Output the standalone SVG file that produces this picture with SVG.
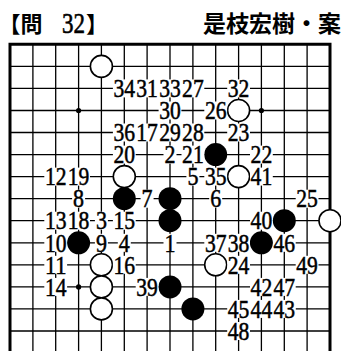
<svg xmlns="http://www.w3.org/2000/svg" width="341" height="351" viewBox="0 0 341 351">
<style>
.g{stroke:#000;stroke-width:1.3;fill:none}
.e{stroke:#000;stroke-width:3;fill:none}
.w{fill:#fff;stroke:#000;stroke-width:1.6}
.b{fill:#000}
.m{fill:#fff}
.n{font-family:"Liberation Serif","Times New Roman",serif;font-size:25px;text-anchor:middle;fill:#000;stroke:#000;stroke-width:0.5}
.t{font-family:"Noto Sans CJK JP","Noto Sans CJK SC",sans-serif;font-weight:bold;font-size:22px;fill:#000}
</style>
<rect width="341" height="351" fill="#fff"/>
<g id="title">
<text class="t" x="-1.4" y="31.5">【問</text>
<text x="62" y="33" font-family="Liberation Serif,serif" font-size="29" textLength="23" lengthAdjust="spacingAndGlyphs" stroke="#000" stroke-width="0.6">32</text>
<text class="t" x="86" y="31.5">】</text>
<text class="t" x="341" y="31.5" text-anchor="end" style="font-size:23px">是枝宏樹・案</text>
</g>
<g id="board">
<path class="g" d="M32.9 44V351M55.7 44V351M78.6 44V351M101.4 44V351M124.3 44V351M147.1 44V351M170 44V351M192.9 44V351M215.7 44V351M238.6 44V351M261.4 44V351M284.3 44V351M307.1 44V351M10 66.4H330M10 88.4H330M10 110.5H330M10 132.5H330M10 154.6H330M10 176.6H330M10 198.7H330M10 220.7H330M10 242.8H330M10 264.8H330M10 286.9H330M10 308.9H330M10 331H330"/>
<path class="e" d="M10 351V44.3H330V351"/>
<circle class="b" cx="78.6" cy="110.5" r="2.6"/>
<circle class="b" cx="261.4" cy="110.5" r="2.6"/>
<circle class="b" cx="78.6" cy="286.9" r="2.6"/>
</g>
<g id="stones">
<circle id="w1" class="w" cx="101.4" cy="66.4" r="11"/>
<circle id="w2" class="w" cx="238.6" cy="110.5" r="11"/>
<circle id="w3" class="w" cx="124.3" cy="176.6" r="11"/>
<circle id="w4" class="w" cx="238.6" cy="176.6" r="11"/>
<circle id="w5" class="w" cx="330" cy="220.7" r="11"/>
<circle id="w6" class="w" cx="101.4" cy="264.8" r="11"/>
<circle id="w7" class="w" cx="215.7" cy="264.8" r="11"/>
<circle id="w8" class="w" cx="101.4" cy="286.9" r="11"/>
<circle id="w9" class="w" cx="101.4" cy="308.9" r="11"/>
<circle id="b1" class="b" cx="215.7" cy="154.6" r="11.5"/>
<circle id="b2" class="b" cx="124.3" cy="198.7" r="11.5"/>
<circle id="b3" class="b" cx="170" cy="198.7" r="11.5"/>
<circle id="b4" class="b" cx="170" cy="220.7" r="11.5"/>
<circle id="b5" class="b" cx="284.3" cy="220.7" r="11.5"/>
<circle id="b6" class="b" cx="78.6" cy="242.8" r="11.5"/>
<circle id="b7" class="b" cx="261.4" cy="242.8" r="11.5"/>
<circle id="b8" class="b" cx="170" cy="286.9" r="11.5"/>
<circle id="b9" class="b" cx="192.9" cy="308.9" r="11.5"/>
</g>
<g id="masks">
<rect class="m" x="112.9" y="79.4" width="91.4" height="18"/>
<rect class="m" x="227.2" y="79.4" width="22.8" height="18"/>
<rect class="m" x="158.6" y="101.5" width="22.8" height="18"/>
<rect class="m" x="204.3" y="101.5" width="22.8" height="18"/>
<rect class="m" x="112.9" y="123.5" width="91.4" height="18"/>
<rect class="m" x="227.2" y="123.5" width="22.8" height="18"/>
<rect class="m" x="112.9" y="145.6" width="22.8" height="18"/>
<rect class="m" x="163.5" y="145.6" width="13" height="18"/>
<rect class="m" x="181.5" y="145.6" width="22.8" height="18"/>
<rect class="m" x="250" y="145.6" width="22.8" height="18"/>
<rect class="m" x="44.3" y="167.6" width="45.7" height="18"/>
<rect class="m" x="186.4" y="167.6" width="13" height="18"/>
<rect class="m" x="204.3" y="167.6" width="22.8" height="18"/>
<rect class="m" x="250" y="167.6" width="22.8" height="18"/>
<rect class="m" x="72.1" y="189.7" width="13" height="18"/>
<rect class="m" x="140.6" y="189.7" width="13" height="18"/>
<rect class="m" x="209.2" y="189.7" width="13" height="18"/>
<rect class="m" x="295.7" y="189.7" width="22.8" height="18"/>
<rect class="m" x="44.3" y="211.7" width="45.7" height="18"/>
<rect class="m" x="94.9" y="211.7" width="13" height="18"/>
<rect class="m" x="112.9" y="211.7" width="22.8" height="18"/>
<rect class="m" x="250" y="211.7" width="22.8" height="18"/>
<rect class="m" x="44.3" y="233.8" width="22.8" height="18"/>
<rect class="m" x="94.9" y="233.8" width="13" height="18"/>
<rect class="m" x="117.8" y="233.8" width="13" height="18"/>
<rect class="m" x="163.5" y="233.8" width="13" height="18"/>
<rect class="m" x="204.3" y="233.8" width="45.7" height="18"/>
<rect class="m" x="272.9" y="233.8" width="22.8" height="18"/>
<rect class="m" x="44.3" y="255.8" width="22.8" height="18"/>
<rect class="m" x="112.9" y="255.8" width="22.8" height="18"/>
<rect class="m" x="227.2" y="255.8" width="22.8" height="18"/>
<rect class="m" x="295.7" y="255.8" width="22.8" height="18"/>
<rect class="m" x="44.3" y="277.9" width="22.8" height="18"/>
<rect class="m" x="135.7" y="277.9" width="22.8" height="18"/>
<rect class="m" x="250" y="277.9" width="45.7" height="18"/>
<rect class="m" x="227.2" y="299.9" width="68.6" height="18"/>
<rect class="m" x="227.2" y="322" width="22.8" height="18"/>
</g>
<g id="labels">
<text class="n" x="124.3" y="97.1" textLength="21.6" lengthAdjust="spacingAndGlyphs">34</text>
<text class="n" x="147.1" y="97.1" textLength="21.6" lengthAdjust="spacingAndGlyphs">31</text>
<text class="n" x="170" y="97.1" textLength="21.6" lengthAdjust="spacingAndGlyphs">33</text>
<text class="n" x="192.9" y="97.1" textLength="21.6" lengthAdjust="spacingAndGlyphs">27</text>
<text class="n" x="238.6" y="97.1" textLength="21.6" lengthAdjust="spacingAndGlyphs">32</text>
<text class="n" x="170" y="119.2" textLength="21.6" lengthAdjust="spacingAndGlyphs">30</text>
<text class="n" x="215.7" y="119.2" textLength="21.6" lengthAdjust="spacingAndGlyphs">26</text>
<text class="n" x="124.3" y="141.2" textLength="21.6" lengthAdjust="spacingAndGlyphs">36</text>
<text class="n" x="147.1" y="141.2" textLength="21.6" lengthAdjust="spacingAndGlyphs">17</text>
<text class="n" x="170" y="141.2" textLength="21.6" lengthAdjust="spacingAndGlyphs">29</text>
<text class="n" x="192.9" y="141.2" textLength="21.6" lengthAdjust="spacingAndGlyphs">28</text>
<text class="n" x="238.6" y="141.2" textLength="21.6" lengthAdjust="spacingAndGlyphs">23</text>
<text class="n" x="124.3" y="163.3" textLength="21.6" lengthAdjust="spacingAndGlyphs">20</text>
<text class="n" x="170" y="163.3" textLength="11" lengthAdjust="spacingAndGlyphs">2</text>
<text class="n" x="192.9" y="163.3" textLength="21.6" lengthAdjust="spacingAndGlyphs">21</text>
<text class="n" x="261.4" y="163.3" textLength="21.6" lengthAdjust="spacingAndGlyphs">22</text>
<text class="n" x="55.7" y="185.3" textLength="21.6" lengthAdjust="spacingAndGlyphs">12</text>
<text class="n" x="78.6" y="185.3" textLength="21.6" lengthAdjust="spacingAndGlyphs">19</text>
<text class="n" x="192.9" y="185.3" textLength="11" lengthAdjust="spacingAndGlyphs">5</text>
<text class="n" x="215.7" y="185.3" textLength="21.6" lengthAdjust="spacingAndGlyphs">35</text>
<text class="n" x="261.4" y="185.3" textLength="21.6" lengthAdjust="spacingAndGlyphs">41</text>
<text class="n" x="78.6" y="207.4" textLength="11" lengthAdjust="spacingAndGlyphs">8</text>
<text class="n" x="147.1" y="207.4" textLength="11" lengthAdjust="spacingAndGlyphs">7</text>
<text class="n" x="215.7" y="207.4" textLength="11" lengthAdjust="spacingAndGlyphs">6</text>
<text class="n" x="307.1" y="207.4" textLength="21.6" lengthAdjust="spacingAndGlyphs">25</text>
<text class="n" x="55.7" y="229.4" textLength="21.6" lengthAdjust="spacingAndGlyphs">13</text>
<text class="n" x="78.6" y="229.4" textLength="21.6" lengthAdjust="spacingAndGlyphs">18</text>
<text class="n" x="101.4" y="229.4" textLength="11" lengthAdjust="spacingAndGlyphs">3</text>
<text class="n" x="124.3" y="229.4" textLength="21.6" lengthAdjust="spacingAndGlyphs">15</text>
<text class="n" x="261.4" y="229.4" textLength="21.6" lengthAdjust="spacingAndGlyphs">40</text>
<text class="n" x="55.7" y="251.5" textLength="21.6" lengthAdjust="spacingAndGlyphs">10</text>
<text class="n" x="101.4" y="251.5" textLength="11" lengthAdjust="spacingAndGlyphs">9</text>
<text class="n" x="124.3" y="251.5" textLength="11" lengthAdjust="spacingAndGlyphs">4</text>
<text class="n" x="170" y="251.5" textLength="11" lengthAdjust="spacingAndGlyphs">1</text>
<text class="n" x="215.7" y="251.5" textLength="21.6" lengthAdjust="spacingAndGlyphs">37</text>
<text class="n" x="238.6" y="251.5" textLength="21.6" lengthAdjust="spacingAndGlyphs">38</text>
<text class="n" x="284.3" y="251.5" textLength="21.6" lengthAdjust="spacingAndGlyphs">46</text>
<text class="n" x="55.7" y="273.5" textLength="21.6" lengthAdjust="spacingAndGlyphs">11</text>
<text class="n" x="124.3" y="273.5" textLength="21.6" lengthAdjust="spacingAndGlyphs">16</text>
<text class="n" x="238.6" y="273.5" textLength="21.6" lengthAdjust="spacingAndGlyphs">24</text>
<text class="n" x="307.1" y="273.5" textLength="21.6" lengthAdjust="spacingAndGlyphs">49</text>
<text class="n" x="55.7" y="295.6" textLength="21.6" lengthAdjust="spacingAndGlyphs">14</text>
<text class="n" x="147.1" y="295.6" textLength="21.6" lengthAdjust="spacingAndGlyphs">39</text>
<text class="n" x="261.4" y="295.6" textLength="21.6" lengthAdjust="spacingAndGlyphs">42</text>
<text class="n" x="284.3" y="295.6" textLength="21.6" lengthAdjust="spacingAndGlyphs">47</text>
<text class="n" x="238.6" y="317.6" textLength="21.6" lengthAdjust="spacingAndGlyphs">45</text>
<text class="n" x="261.4" y="317.6" textLength="21.6" lengthAdjust="spacingAndGlyphs">44</text>
<text class="n" x="284.3" y="317.6" textLength="21.6" lengthAdjust="spacingAndGlyphs">43</text>
<text class="n" x="238.6" y="339.7" textLength="21.6" lengthAdjust="spacingAndGlyphs">48</text>
</g>
<g id="connectors"/>
</svg>
